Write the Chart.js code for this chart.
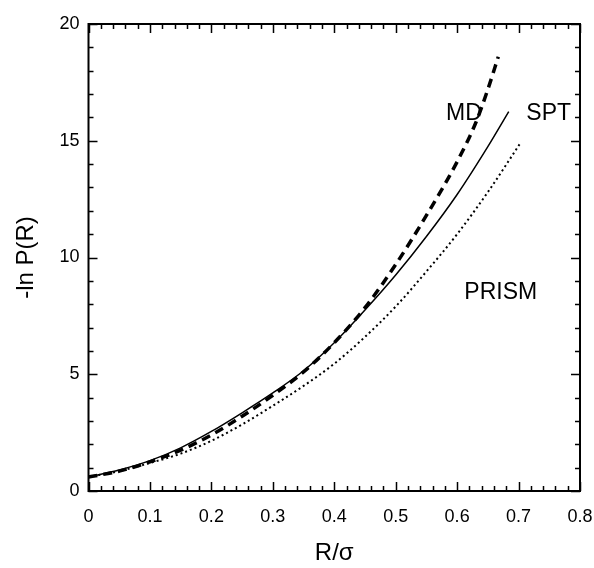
<!DOCTYPE html>
<html>
<head>
<meta charset="utf-8">
<script src="https://cdn.jsdelivr.net/npm/chart.js@4/dist/chart.umd.min.js"></script>
<style>
html,body{margin:0;padding:0;background:#fff;}
#wrap{width:594px;height:568px;position:relative;}
</style>
</head>
<body>
<div id="wrap"><canvas id="c" width="594" height="568"></canvas></div>
<script>
// Data
const R_MD    = [0,0.05,0.1,0.15,0.2,0.25,0.3,0.35,0.4,0.45,0.5,0.55,0.6,0.63,0.65,0.667];
const LNP_MD  = [0.6,0.85,1.25,1.75,2.4,3.2,4.1,5.1,6.35,7.85,9.7,11.8,14.1,15.75,17.2,18.6];
const R_SPT   = [0,0.05,0.1,0.15,0.2,0.25,0.3,0.35,0.4,0.45,0.5,0.55,0.6,0.65,0.684];
const LNP_SPT = [0.6,0.9,1.3,1.85,2.55,3.35,4.2,5.15,6.35,7.75,9.25,10.9,12.7,14.75,16.25];
const R_PRISM   = [0,0.05,0.1,0.15,0.2,0.25,0.3,0.35,0.4,0.45,0.5,0.55,0.6,0.65,0.703];
const LNP_PRISM = [0.6,0.85,1.2,1.6,2.15,2.85,3.65,4.5,5.45,6.6,7.9,9.4,11.0,12.8,14.9];
const X_TICKS = [0,0.1,0.2,0.3,0.4,0.5,0.6,0.7,0.8];
const Y_TICKS = [0,5,10,15,20];
const SERIES_LABELS = ['MD','SPT','PRISM'];

function pts(xs, ys){ return xs.map((x,i)=>({x:x, y:ys[i]})); }

const FONT = "'Liberation Sans', Arial, Helvetica, sans-serif";

const framePlugin = {
  id: 'frame',
  afterDraw(chart){
    const ctx = chart.ctx, a = chart.chartArea;
    const xs = chart.scales.x, ys = chart.scales.y;
    ctx.save();
    ctx.strokeStyle = '#000';
    ctx.lineWidth = 1.5;
    ctx.beginPath();
    for (let i = 0; i <= 40; i++) {
      const px = Math.round(xs.getPixelForValue(i*0.02)) + 0.5;
      const len = (i % 5 === 0) ? 9 : 5;
      ctx.moveTo(px, a.bottom); ctx.lineTo(px, a.bottom - len);
      ctx.moveTo(px, a.top); ctx.lineTo(px, a.top + len);
    }
    for (let v = 0; v <= 20; v++) {
      const py = Math.round(ys.getPixelForValue(v)) + 0.5;
      const len = (v % 5 === 0) ? 9 : 5;
      ctx.moveTo(a.left, py); ctx.lineTo(a.left + len, py);
      ctx.moveTo(a.right, py); ctx.lineTo(a.right - len, py);
    }
    ctx.stroke();
    ctx.lineWidth = 2;
    ctx.strokeRect(a.left, a.top, a.right - a.left, a.bottom - a.top);
    ctx.fillStyle = '#000';
    ctx.font = '23px ' + FONT;
    ctx.textAlign = 'center';
    ctx.textBaseline = 'middle';
    const labelAt = [[0.611,16.15],[0.749,16.15],[0.671,8.5]];
    SERIES_LABELS.forEach((t,i)=>{
      ctx.fillText(t, xs.getPixelForValue(labelAt[i][0]), ys.getPixelForValue(labelAt[i][1]));
    });
    ctx.restore();
  }
};

new Chart(document.getElementById('c'), {
  type: 'line',
  data: {
    datasets: [
      { label: SERIES_LABELS[0], data: pts(R_MD, LNP_MD), borderColor:'#000', borderWidth:3.5, borderDash:[9,6], pointRadius:0, cubicInterpolationMode:'monotone', fill:false },
      { label: SERIES_LABELS[1], data: pts(R_SPT, LNP_SPT), borderColor:'#000', borderWidth:1.5, pointRadius:0, cubicInterpolationMode:'monotone', fill:false },
      { label: SERIES_LABELS[2], data: pts(R_PRISM, LNP_PRISM), borderColor:'#000', borderWidth:2, borderDash:[2,3], pointRadius:0, cubicInterpolationMode:'monotone', fill:false }
    ]
  },
  options: {
    responsive: false,
    animation: false,
    layout: { padding: { left: 0, top: 24, right: 14, bottom: 0 } },
    plugins: { legend: { display: false }, tooltip: { enabled: false } },
    scales: {
      x: {
        type: 'linear', min: 0, max: 0.8,
        afterBuildTicks: s => { s.ticks = X_TICKS.map(v => ({value: v})); },
        afterFit: s => { s.height = 77; s.paddingLeft = 0; s.paddingRight = 0; },
        grid: { display: false, drawTicks: false },
        border: { display: false },
        ticks: { color:'#000', padding: 15, maxRotation: 0, font: { family: FONT, size: 18 }, callback: v => String(v) },
        title: { display: true, text: 'R/σ', color:'#000', font: { family: FONT, size: 24 }, padding: { top: 15, bottom: 0 } }
      },
      y: {
        type: 'linear', min: 0, max: 20,
        afterBuildTicks: s => { s.ticks = Y_TICKS.map(v => ({value: v})); },
        afterFit: s => { s.width = 88.5; s.paddingTop = 0; s.paddingBottom = 0; },
        grid: { display: false, drawTicks: false },
        border: { display: false },
        ticks: { color:'#000', padding: 9, font: { family: FONT, size: 18 }, callback: v => String(v) },
        title: { display: true, text: '-ln P(R)', color:'#000', font: { family: FONT, size: 24 }, padding: { top: 12, bottom: 0 } }
      }
    }
  },
  plugins: [framePlugin]
});
</script>
</body>
</html>
